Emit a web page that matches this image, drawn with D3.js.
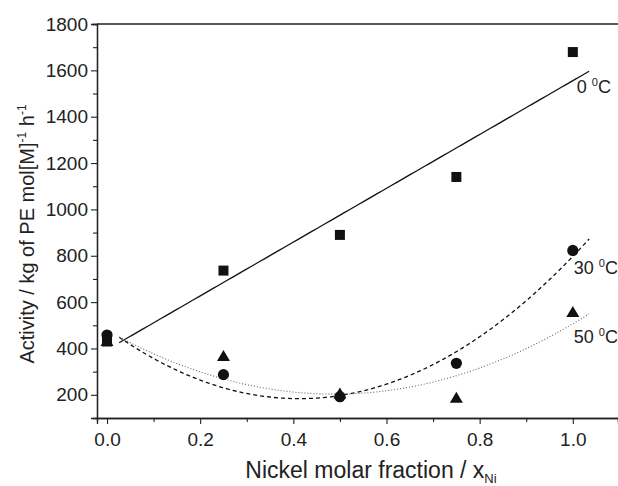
<!DOCTYPE html>
<html>
<head>
<meta charset="utf-8">
<script src="https://cdn.jsdelivr.net/npm/d3@7"></script>
<style>
  body { margin: 0; background: #fff; }
  svg { font-family: "Liberation Sans", Arial, sans-serif; }
</style>
</head>
<body>
<svg width="618" height="486"></svg>
<script>
var xNi = [0, 0.25, 0.5, 0.75, 1.0];
var act0C = [430, 736, 890, 1140, 1679];
var act30C = [458, 287, 192, 336, 823];
var act50C = [430, 365, 204, 185, 555];

var yTicks = [200, 400, 600, 800, 1000, 1200, 1400, 1600, 1800];
var yMinor = [300, 500, 700, 900, 1100, 1300, 1500, 1700];
var xTicks = [0, 0.2, 0.4, 0.6, 0.8, 1.0];
var xMinor = [0.1, 0.3, 0.5, 0.7, 0.9];
var fitRange = [0.026, 1.035];

var series = [
  { name: "0", values: act0C, shape: "square", degree: 1, dash: null, stroke: "#111", label: 1502 },
  { name: "30", values: act30C, shape: "circle", degree: 2, dash: "4,3", stroke: "#111", label: 720 },
  { name: "50", values: act50C, shape: "triangle", degree: 2, dash: "1,2", stroke: "#666", label: 422 }
];

var svg = d3.select("svg");
var margin = { top: 24, right: 0, bottom: 68, left: 97 };
var width = +svg.attr("width") - margin.left - margin.right;
var height = +svg.attr("height") - margin.top - margin.bottom;

var x = d3.scaleLinear().domain([-0.0215, 1.097]).range([0, width]);
var y = d3.scaleLinear().domain([100, 1800]).range([height, 0]);

var g = svg.append("g")
  .attr("transform", "translate(" + margin.left + "," + margin.top + ")");

// least squares polynomial fit (normal equations)
function polyfit(xs, ys, deg) {
  var n = deg + 1, A = [], b = [];
  for (var i = 0; i < n; i++) {
    A.push([]);
    for (var j = 0; j < n; j++) A[i].push(d3.sum(xs, v => Math.pow(v, i + j)));
    b.push(d3.sum(xs, (v, k) => Math.pow(v, i) * ys[k]));
  }
  for (var c = 0; c < n; c++) {
    for (var r = c + 1; r < n; r++) {
      var f = A[r][c] / A[c][c];
      for (var k = c; k < n; k++) A[r][k] -= f * A[c][k];
      b[r] -= f * b[c];
    }
  }
  var coef = new Array(n);
  for (var r = n - 1; r >= 0; r--) {
    var s = b[r];
    for (var k = r + 1; k < n; k++) s -= A[r][k] * coef[k];
    coef[r] = s / A[r][r];
  }
  return function(v) { return d3.sum(coef, (c, i) => c * Math.pow(v, i)); };
}

// axes
g.append("g").call(d3.axisLeft(y).tickValues(yTicks).tickSize(6).tickPadding(3).tickFormat(d3.format("d")));
g.append("g").call(d3.axisLeft(y).tickValues(yMinor).tickSize(4).tickFormat(""));
g.append("g").attr("transform", "translate(0," + height + ")")
  .call(d3.axisBottom(x).tickValues(xTicks).tickSize(6).tickPadding(9).tickFormat(d3.format(".1f")));
g.append("g").attr("transform", "translate(0," + height + ")")
  .call(d3.axisBottom(x).tickValues(xMinor).tickSize(4).tickFormat(""));

g.selectAll(".domain").attr("stroke", "#222").attr("stroke-width", 1.3);
g.selectAll(".tick line").attr("stroke", "#222").attr("stroke-width", 1.1);
g.selectAll(".tick text").attr("font-size", 19).attr("fill", "#222").attr("font-family", null);

// top frame line
g.append("line").attr("x1", 0).attr("x2", width).attr("y1", 0).attr("y2", 0)
  .attr("stroke", "#222").attr("stroke-width", 1.3);

// fits
var line = d3.line().x(d => x(d[0])).y(d => y(d[1]));
var xs = d3.range(0, 101).map(i => fitRange[0] + (fitRange[1] - fitRange[0]) * i / 100);

series.forEach(function(s) {
  var f = polyfit(xNi, s.values, s.degree);
  g.append("path")
    .attr("d", line(xs.map(v => [v, f(v)])))
    .attr("fill", "none")
    .attr("stroke", s.stroke)
    .attr("stroke-width", s.dash === "1,2" ? 1.1 : 1.3)
    .attr("stroke-dasharray", s.dash);
});

// markers
var tri = "M0,-6.5L6.5,4.5L-6.5,4.5Z";
series.forEach(function(s) {
  var pts = g.append("g").selectAll("path").data(s.values).enter();
  if (s.shape === "square") {
    pts.append("rect")
      .attr("x", (d, i) => x(xNi[i]) - 5).attr("y", d => y(d) - 5)
      .attr("width", 10).attr("height", 10).attr("fill", "#111");
  } else if (s.shape === "circle") {
    pts.append("circle")
      .attr("cx", (d, i) => x(xNi[i])).attr("cy", d => y(d)).attr("r", 5.6).attr("fill", "#111");
  } else {
    pts.append("path")
      .attr("transform", (d, i) => "translate(" + x(xNi[i]) + "," + y(d) + ")")
      .attr("d", tri).attr("fill", "#111");
  }
});

// series labels
series.forEach(function(s) {
  var t = g.append("text")
    .attr("x", x(1.0) + (s.name === "0" ? 4 : 1))
    .attr("y", y(s.label))
    .attr("font-size", 18).attr("fill", "#222");
  t.append("tspan").text(s.name + " ");
  t.append("tspan").attr("font-size", 11).attr("dy", -7).text("0");
  t.append("tspan").attr("dy", 7).text("C");
});

// axis titles
var xt = svg.append("text")
  .attr("x", 371).attr("y", 478)
  .attr("text-anchor", "middle")
  .attr("font-size", 23).attr("fill", "#222");
xt.append("tspan").text("Nickel molar fraction / x");
xt.append("tspan").attr("font-size", 13).attr("dy", 5).text("Ni");

var yt = svg.append("text")
  .attr("transform", "translate(34,234) rotate(-90)")
  .attr("text-anchor", "middle")
  .attr("font-size", 20).attr("fill", "#222");
yt.append("tspan").text("Activity / kg of PE mol[M]");
yt.append("tspan").attr("font-size", 12).attr("dy", -8).text("-1");
yt.append("tspan").attr("dy", 8).text(" h");
yt.append("tspan").attr("font-size", 12).attr("dy", -8).text("-1");
</script>
</body>
</html>
